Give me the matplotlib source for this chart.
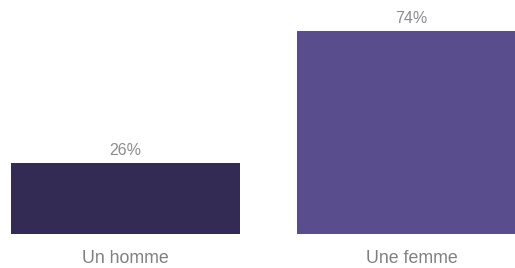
import matplotlib
matplotlib.use("Agg")
import matplotlib.pyplot as plt

categories = ["Un homme", "Une femme"]
values = [26, 74]
labels = ["26%", "74%"]
colors = ["#342b55", "#5a4d8e"]

plt.rcParams['font.family'] = ['Liberation Sans', 'DejaVu Sans']
fig = plt.figure(figsize=(5.15, 2.68), dpi=100)
ax = fig.add_axes([11/515, 34/268, 504/515, 234/268])
x = list(range(len(categories)))
ax.bar(x, values, width=0.8, color=colors)
for xi, v, lab in zip(x, values, labels):
    ax.annotate(lab, (xi, v), xytext=(0, 12), textcoords="offset pixels",
                ha="center", va="center", fontsize=11.5, color="#8c8c8c")
ax.set_xlim(-0.4, -0.4 + 504/286)
ax.set_ylim(0, 234/2.75)
ax.set_xticks(x)
ax.set_xticklabels(categories, fontsize=12.8, color="#808080")
ax.tick_params(axis="x", length=0, pad=11.5)
ax.set_yticks([])
for s in ax.spines.values():
    s.set_visible(False)
fig.savefig("out.png", dpi=100)
